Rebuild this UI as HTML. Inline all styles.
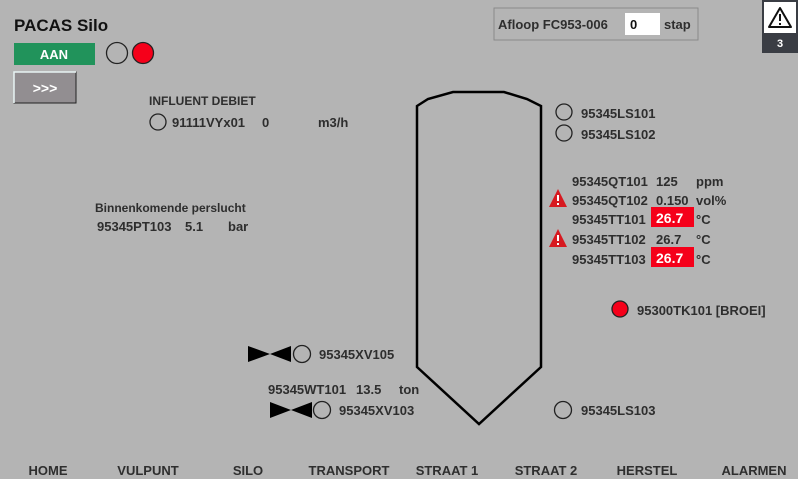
<!DOCTYPE html>
<html><head><meta charset="utf-8"><style>
body{margin:0;width:798px;height:479px;background:#b4b4b4;overflow:hidden}
svg{display:block}
text{font-family:"Liberation Sans",sans-serif;font-weight:bold;font-size:13px;fill:#2e2e2e}
</style></head><body>
<svg width="798" height="479" viewBox="0 0 798 479">
<text x="14" y="31" font-size="17" style="font-size:17px;fill:#111">PACAS Silo</text>
<rect x="14" y="43" width="81" height="22" fill="#21935b"/>
<text x="54" y="59" text-anchor="middle" style="fill:#fff">AAN</text>
<circle cx="117" cy="53" r="10.5" fill="none" stroke="#222" stroke-width="1.3"/>
<circle cx="143" cy="53" r="10.5" fill="#f5001a" stroke="#222" stroke-width="1.3"/>
<rect x="14" y="72" width="62" height="31" fill="#928e91" stroke="#222"/>
<path d="M14 103V72H76" stroke="#e8f4f4" stroke-width="1.5" fill="none"/>
<text x="45" y="93" text-anchor="middle" style="fill:#fff;font-size:14px">&gt;&gt;&gt;</text>
<text x="149" y="105" style="font-size:12px">INFLUENT DEBIET</text>
<circle cx="158" cy="122" r="8" fill="none" stroke="#222" stroke-width="1.3"/>
<text x="172" y="127">91111VYx01</text><text x="262" y="127">0</text><text x="318" y="127">m3/h</text>
<rect x="494" y="8" width="204" height="32" fill="none" stroke="#8a8a8a"/>
<text x="498" y="29">Afloop FC953-006</text>
<rect x="625" y="13" width="35" height="22" fill="#fff"/>
<text x="630" y="29" style="fill:#111">0</text><text x="664" y="29">stap</text>
<rect x="762" y="0" width="36" height="53" fill="#3a3d44"/>
<rect x="764" y="2" width="32" height="31" fill="#fff"/>
<path d="M780 8L791 27H769Z" fill="none" stroke="#111" stroke-width="2" stroke-linejoin="round"/>
<rect x="779" y="14" width="2" height="7" fill="#111"/><rect x="779" y="23" width="2" height="2" fill="#111"/>
<text x="780" y="47" text-anchor="middle" style="fill:#fff;font-size:11px">3</text>
<path d="M417 367V106L428 99L453 92H504L527 99L541 106V367L479 424L417 367Z" fill="none" stroke="#000" stroke-width="2.5"/>
<circle cx="564" cy="112" r="8" fill="none" stroke="#222" stroke-width="1.3"/><text x="581" y="118">95345LS101</text>
<circle cx="564" cy="133" r="8" fill="none" stroke="#222" stroke-width="1.3"/><text x="581" y="139">95345LS102</text>
<text x="572" y="186">95345QT101</text><text x="656" y="186">125</text><text x="696" y="186">ppm</text>
<text x="572" y="205">95345QT102</text><text x="656" y="205">0.150</text><text x="696" y="205">vol%</text>
<rect x="651" y="207" width="43" height="20" fill="#f5001a"/>
<text x="572" y="224">95345TT101</text><text x="656" y="223" style="fill:#fff;font-size:14px">26.7</text><text x="696" y="224">°C</text>
<text x="572" y="244">95345TT102</text><text x="656" y="244">26.7</text><text x="696" y="244">°C</text>
<rect x="651" y="247" width="43" height="20" fill="#f5001a"/>
<text x="572" y="264">95345TT103</text><text x="656" y="263" style="fill:#fff;font-size:14px">26.7</text><text x="696" y="264">°C</text>
<g fill="#d71920"><path d="M558 189L567 207H549Z"/><path d="M558 229L567 247H549Z"/></g>
<g fill="#fff"><rect x="557" y="195" width="2" height="6"/><rect x="557" y="203" width="2" height="2"/><rect x="557" y="235" width="2" height="6"/><rect x="557" y="243" width="2" height="2"/></g>
<circle cx="620" cy="309" r="8" fill="#f5001a" stroke="#222" stroke-width="1.3"/><text x="637" y="315">95300TK101 [BROEI]</text>
<text x="95" y="212" style="font-size:12px">Binnenkomende perslucht</text>
<text x="97" y="231">95345PT103</text><text x="185" y="231">5.1</text><text x="228" y="231">bar</text>
<path d="M248 346L270 354L248 362Z M291 346L270 354L291 362Z" fill="#000"/>
<circle cx="302" cy="354" r="8.5" fill="none" stroke="#222" stroke-width="1.3"/><text x="319" y="359">95345XV105</text>
<text x="268" y="394">95345WT101</text><text x="356" y="394">13.5</text><text x="399" y="394">ton</text>
<path d="M270 402L291 410L270 418Z M312 402L291 410L312 418Z" fill="#000"/>
<circle cx="322" cy="410" r="8.5" fill="none" stroke="#222" stroke-width="1.3"/><text x="339" y="415">95345XV103</text>
<circle cx="563" cy="410" r="8.5" fill="none" stroke="#222" stroke-width="1.3"/><text x="581" y="415">95345LS103</text>
<g style="font-size:12px">
<text x="48" y="475" text-anchor="middle">HOME</text>
<text x="148" y="475" text-anchor="middle">VULPUNT</text>
<text x="248" y="475" text-anchor="middle">SILO</text>
<text x="349" y="475" text-anchor="middle">TRANSPORT</text>
<text x="447" y="475" text-anchor="middle">STRAAT 1</text>
<text x="546" y="475" text-anchor="middle">STRAAT 2</text>
<text x="647" y="475" text-anchor="middle">HERSTEL</text>
<text x="754" y="475" text-anchor="middle">ALARMEN</text>
</g>
</svg>
</body></html>
